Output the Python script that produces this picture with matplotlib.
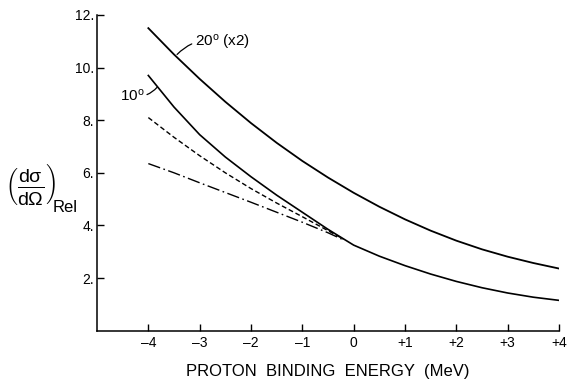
"""Relative cross section vs proton binding energy (recreated figure)."""
import matplotlib
matplotlib.use('Agg')
import matplotlib.pyplot as plt

plt.rcParams['font.family'] = ['Liberation Sans', 'DejaVu Sans']
plt.rcParams['mathtext.fontset'] = 'custom'
plt.rcParams['mathtext.rm'] = 'Liberation Sans'
plt.rcParams['mathtext.it'] = 'Liberation Sans'

# values (MeV, relative cross section)
e_full = [-4, -3.5, -3, -2.5, -2, -1.5, -1, -0.5, 0, 0.5, 1, 1.5, 2, 2.5, 3, 3.5, 4]
s20 = [11.5, 10.5, 9.57, 8.70, 7.89, 7.14, 6.45, 5.82, 5.24, 4.71, 4.23, 3.80, 3.42, 3.09, 2.81, 2.57, 2.36]
s10 = [9.7, 8.5, 7.45, 6.6, 5.85, 5.15, 4.5, 3.85, 3.25, 2.83, 2.47, 2.15, 1.87, 1.63, 1.43, 1.27, 1.15]
e_part = [-4, -3.5, -3, -2.5, -2, -1.5, -1, -0.5, -0.2]
s_dash = [8.1, 7.35, 6.65, 6.0, 5.4, 4.85, 4.33, 3.8, 3.48]
s_dashdot = [6.35, 6.0, 5.62, 5.25, 4.88, 4.5, 4.12, 3.72, 3.45]

xticks = [-4, -3, -2, -1, 0, 1, 2, 3, 4]
xticklabels = ['–4', '–3', '–2', '–1', '0', '+1', '+2', '+3', '+4']
yticks = [2, 4, 6, 8, 10, 12]
yticklabels = ['2.', '4.', '6.', '8.', '10.', '12.']

fig = plt.figure(figsize=(5.69, 3.79), dpi=100)
ax = fig.add_axes([97/569, 1-330.6/379, (559-97)/569, (330.6-15)/379])

ax.plot(e_full, s20, color='k', lw=1.3)
ax.plot(e_full, s10, color='k', lw=1.2)
ax.plot(e_part, s_dash, color='k', lw=1.0, ls=(0, (3.5, 2)))
ax.plot(e_part, s_dashdot, color='k', lw=1.0, ls=(0, (9, 2.5, 1.2, 2.5)))

ax.annotate('20$^{\\rm o}$ (x2)', xy=(-3.44, 10.5), xytext=(-3.1, 10.95),
            fontsize=11, va='center', ha='left',
            arrowprops=dict(arrowstyle='-', color='k', lw=0.9,
                            connectionstyle='arc3,rad=0.3', shrinkA=0, shrinkB=0))
ax.annotate('10$^{\\rm o}$', xy=(-3.83, 9.25), xytext=(-4.08, 8.95),
            fontsize=11, va='center', ha='right',
            arrowprops=dict(arrowstyle='-', color='k', lw=0.9,
                            connectionstyle='arc3,rad=0.3', shrinkA=0, shrinkB=0))

ax.set_xlim(-5, 4)
ax.set_ylim(0, 12)
ax.set_xticks(xticks)
ax.set_xticklabels(xticklabels, fontsize=10)
ax.set_yticks(yticks)
ax.set_yticklabels(yticklabels, fontsize=10)
ax.tick_params(direction='in', length=5, width=1, pad=4)
ax.tick_params(axis='y', pad=2)
for s in ['top', 'right']:
    ax.spines[s].set_visible(False)
for s in ['left', 'bottom']:
    ax.spines[s].set_linewidth(1.1)

ax.set_xlabel('PROTON  BINDING  ENERGY  (MeV)', fontsize=12, labelpad=10)
# y label: (dσ/dΩ) with a lowered "Rel" subscript
fig.text(31/569, 1-185/379,
         r'$\left(\frac{\mathrm{d}\sigma}{\mathrm{d}\Omega}\right)$',
         fontsize=20, ha='center', va='center')
fig.text(53/569, 1-212/379, 'Rel', fontsize=12, ha='left', va='baseline')

fig.savefig('out.png', dpi=100)
